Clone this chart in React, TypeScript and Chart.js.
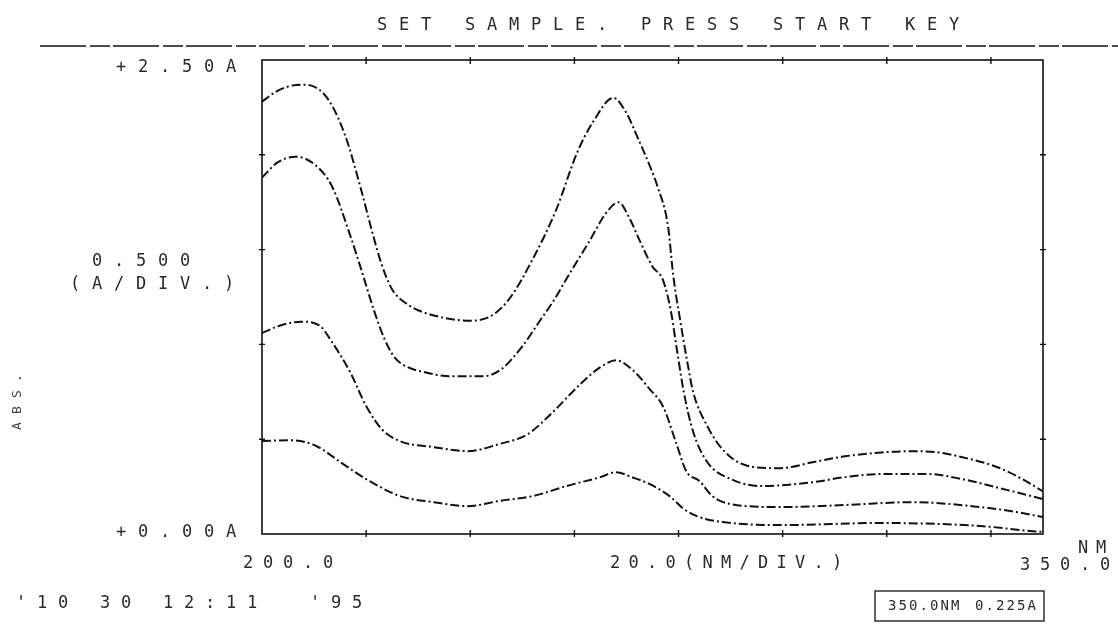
import React, { useEffect, useRef } from "react";
import { Chart, registerables } from "chart.js";

Chart.register(...registerables);

// ---------- data ----------
const wl1 = [200, 202.5, 205, 207.5, 210, 213, 216, 219, 221, 223, 225, 228, 230, 235, 240, 244, 247.5, 252, 256.5, 260.5, 263.5, 267.5, 270, 272, 274.5, 276, 278, 279, 280.3, 281.6, 282.8, 285.5, 289, 294, 299.5, 306, 312, 319, 325, 330, 334.5, 341, 346, 350];
const abs1 = [2.28, 2.33, 2.36, 2.37, 2.36, 2.28, 2.1, 1.82, 1.61, 1.42, 1.29, 1.21, 1.18, 1.14, 1.125, 1.15, 1.24, 1.45, 1.71, 2.01, 2.17, 2.3, 2.22, 2.1, 1.94, 1.83, 1.62, 1.36, 1.13, 0.92, 0.75, 0.57, 0.43, 0.355, 0.347, 0.38, 0.41, 0.43, 0.437, 0.43, 0.405, 0.355, 0.29, 0.225];

const wl2 = [200, 203, 206.5, 210.5, 213.5, 217, 219, 221.5, 223.5, 225.5, 228, 231, 236, 242.5, 246, 250, 253.5, 256, 259, 263, 266, 268.5, 270.5, 272.5, 275, 277, 278.5, 279.7, 281, 282.8, 285.5, 290, 296, 306, 312, 319, 328, 334.5, 344, 350];
const abs2 = [1.88, 1.96, 1.99, 1.94, 1.83, 1.57, 1.4, 1.18, 1.03, 0.93, 0.88, 0.855, 0.832, 0.832, 0.87, 0.99, 1.13, 1.23, 1.37, 1.55, 1.69, 1.75, 1.67, 1.55, 1.41, 1.34, 1.18, 0.97, 0.75, 0.54, 0.38, 0.29, 0.253, 0.274, 0.3, 0.316, 0.316, 0.289, 0.226, 0.184];

const wl3 = [200, 203.5, 207.5, 211, 213.5, 217, 220, 223, 226.5, 233, 239.5, 245.5, 251, 255, 261.5, 265, 268, 271, 274.5, 277, 279.5, 281.5, 284, 286.5, 290, 299.5, 312, 325, 338, 344, 350];
const abs3 = [1.06, 1.1, 1.12, 1.1, 1.01, 0.85, 0.675, 0.553, 0.49, 0.458, 0.437, 0.474, 0.526, 0.62, 0.8, 0.88, 0.916, 0.87, 0.763, 0.674, 0.484, 0.33, 0.28, 0.2, 0.158, 0.142, 0.153, 0.168, 0.142, 0.12, 0.089];

const wl4 = [200, 205.5, 210.5, 215, 220, 226.5, 233, 239.5, 245.5, 252, 258.5, 265, 268, 271, 274.5, 278.5, 281, 284, 288.5, 299.5, 319, 338, 347.5, 350];
const abs4 = [0.49, 0.495, 0.463, 0.38, 0.29, 0.2, 0.168, 0.147, 0.174, 0.2, 0.253, 0.3, 0.326, 0.3, 0.263, 0.195, 0.132, 0.089, 0.063, 0.047, 0.058, 0.042, 0.016, 0.011];

const xTicks = [220, 240, 260, 280, 300, 320, 340];
const yTicks = [0.5, 1.0, 1.5, 2.0];

const TITLE = "SET SAMPLE. PRESS START KEY";
const Y_TOP_LABEL = "+2.50A";
const Y_BOTTOM_LABEL = "+0.00A";
const Y_DIV_VALUE = "0.500";
const Y_DIV_UNIT = "(A/DIV.)";
const Y_AXIS_NAME = "ABS.";
const X_START_LABEL = "200.0";
const X_DIV_LABEL = "20.0(NM/DIV.)";
const X_END_LABEL = "350.0";
const X_UNIT = "NM";
const DATE_LABEL = "'10 30 12:11  '95";
const READ_WL = "350.0NM";
const READ_ABS = "0.225A";

const mk = (xs: number[], ys: number[]) => xs.map((x, i) => ({ x, y: ys[i] }));

const FONT = "17px 'DejaVu Sans Mono'";
const INK = "#2a2a2a";

function drawSpaced(ctx: CanvasRenderingContext2D, s: string, x: number, y: number, adv: number) {
  for (let i = 0; i < s.length; i++) {
    ctx.fillText(s[i], x + i * adv, y);
  }
}

const decorPlugin = {
  id: "decor",
  afterDraw(chart: any) {
    const ctx: CanvasRenderingContext2D = chart.ctx;
    const { left, right, top, bottom } = chart.chartArea;
    const xs = chart.scales.x;
    const ys = chart.scales.y;
    ctx.save();
    // frame
    ctx.strokeStyle = "#111";
    ctx.lineWidth = 1.6;
    ctx.setLineDash([]);
    ctx.strokeRect(left, top, right - left, bottom - top);
    // ticks
    ctx.lineWidth = 1.4;
    ctx.beginPath();
    xTicks.forEach((v) => {
      const px = xs.getPixelForValue(v);
      ctx.moveTo(px, top - 3);
      ctx.lineTo(px, top + 4);
      ctx.moveTo(px, bottom - 4);
      ctx.lineTo(px, bottom + 3);
    });
    yTicks.forEach((v) => {
      const py = ys.getPixelForValue(v);
      ctx.moveTo(left - 3, py);
      ctx.lineTo(left + 3, py);
      ctx.moveTo(right - 3, py);
      ctx.lineTo(right + 3, py);
    });
    ctx.stroke();
    // full-width rule under title
    ctx.lineWidth = 1.5;
    ctx.setLineDash([46, 4, 20, 3]);
    ctx.beginPath();
    ctx.moveTo(40, 46);
    ctx.lineTo(1118, 46);
    ctx.stroke();
    ctx.setLineDash([]);
    // reading box
    ctx.lineWidth = 1.3;
    ctx.strokeRect(875, 591, 169, 30);

    // texts
    ctx.fillStyle = INK;
    ctx.font = FONT;
    ctx.textBaseline = "middle";
    ctx.textAlign = "left";
    drawSpaced(ctx, TITLE, 377, 26, 22);
    drawSpaced(ctx, Y_TOP_LABEL, 116, 68, 22);
    drawSpaced(ctx, Y_DIV_VALUE, 92, 262, 22);
    drawSpaced(ctx, Y_DIV_UNIT, 70, 285, 22);
    drawSpaced(ctx, Y_BOTTOM_LABEL, 116, 533, 22);
    drawSpaced(ctx, X_START_LABEL, 243, 564, 20);
    drawSpaced(ctx, X_DIV_LABEL, 610, 564, 18.5);
    drawSpaced(ctx, X_UNIT, 1078, 549, 18);
    drawSpaced(ctx, X_END_LABEL, 1020, 566, 20);
    drawSpaced(ctx, DATE_LABEL, 16, 604, 21);
    ctx.font = "14px 'DejaVu Sans Mono'";
    drawSpaced(ctx, READ_WL, 888, 606, 10.5);
    drawSpaced(ctx, READ_ABS, 975, 606, 10.5);
    // rotated axis name
    ctx.save();
    ctx.translate(18, 402);
    ctx.rotate(-Math.PI / 2);
    ctx.font = "13px 'DejaVu Sans Mono'";
    ctx.fillStyle = "#444";
    ctx.textAlign = "center";
    drawSpaced(ctx, Y_AXIS_NAME, -24, 0, 16);
    ctx.restore();
    ctx.restore();
  },
};

export default function App() {
  const ref = useRef<HTMLCanvasElement | null>(null);
  useEffect(() => {
    if (!ref.current) return;
    const lineStyle = {
      borderColor: "#111",
      borderWidth: 2,
      borderDash: [9, 3, 2, 3],
      pointRadius: 0,
      fill: false,
      cubicInterpolationMode: "monotone" as const,
    };
    const chart = new Chart(ref.current, {
      type: "line",
      data: {
        datasets: [
          { label: "S1", data: mk(wl1, abs1), ...lineStyle },
          { label: "S2", data: mk(wl2, abs2), ...lineStyle },
          { label: "S3", data: mk(wl3, abs3), ...lineStyle },
          { label: "S4", data: mk(wl4, abs4), ...lineStyle },
        ],
      },
      options: {
        animation: false,
        responsive: false,
        layout: { padding: { left: 262, right: 75, top: 60, bottom: 91 } },
        plugins: { legend: { display: false }, tooltip: { enabled: false }, title: { display: false } },
        scales: {
          x: { type: "linear", min: 200, max: 350, display: false },
          y: { type: "linear", min: 0, max: 2.5, display: false },
        },
      },
      plugins: [decorPlugin],
    });
    return () => chart.destroy();
  }, []);
  return (
    <div style={{ position: "fixed", left: 0, top: 0, width: 1118, height: 625, background: "#fff" }}>
      <canvas ref={ref} width={1118} height={625} style={{ display: "block", width: 1118, height: 625 }} />
    </div>
  );
}
